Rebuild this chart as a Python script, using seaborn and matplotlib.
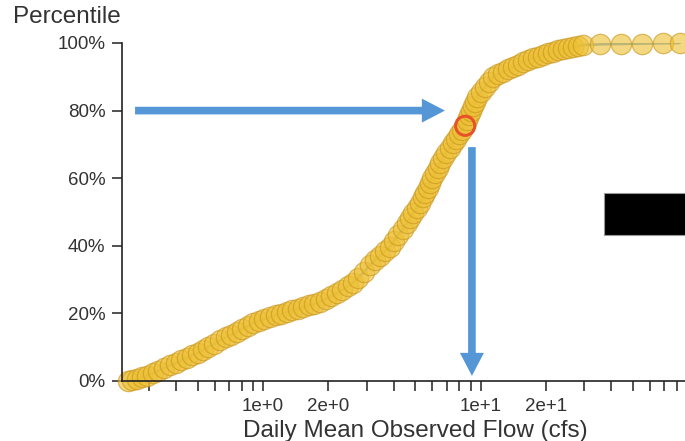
import numpy as np
import pandas as pd
import matplotlib
matplotlib.use('Agg')
import matplotlib.pyplot as plt
import matplotlib.ticker as mticker
from matplotlib.patches import Rectangle
import seaborn as sns

# flow duration curve (cfs, percentile)
flow = [0.240, 0.250, 0.264, 0.278, 0.293, 0.312,
        0.329, 0.351, 0.374,
        0.398, 0.420, 0.447,
        0.472, 0.503, 0.530,
        0.559, 0.596, 0.635,
        0.676, 0.713, 0.760,
        0.801, 0.853, 0.900,
        0.959, 1.01, 1.08,
        1.15, 1.21, 1.29,
        1.36, 1.45, 1.53,
        1.63, 1.72, 1.83,
        1.95, 2.05, 2.19,
        2.31, 2.46, 2.59,
        2.73, 2.91, 3.10,
        3.27, 3.45, 3.64, 3.83,
        4.00, 4.17, 4.40, 4.59,
        4.74, 4.89, 5.10, 5.27,
        5.44, 5.55, 5.73, 5.86,
        5.98, 6.17, 6.37, 6.51,
        6.72, 6.93, 7.24, 7.47,
        7.71, 7.96, 8.21, 8.48,
        8.66, 8.84, 9.03, 9.23, 9.43, 9.63,
        10.0, 10.5, 10.9, 11.4,
        12.0, 12.7, 13.4, 14.1,
        14.9, 15.7, 16.5, 17.4,
        18.4, 19.4, 20.4, 21.5,
        22.7, 23.9, 25.2, 26.6,
        28.0, 29.6,
        35.4, 44.2, 55.2, 68.9, 82.5]
percentile = [0.0, 0.3, 0.6, 1.2, 1.5, 2.4,
              3.0, 3.8, 4.7,
              5.3, 6.2, 6.8,
              7.7, 8.3, 9.2,
              10.1, 10.9, 12.1,
              13.0, 13.6, 14.5,
              15.4, 16.3, 17.2,
              17.8, 18.3, 18.9,
              19.5, 19.8, 20.4,
              21.0, 21.3, 21.9,
              22.5, 22.8, 23.4,
              24.3, 25.1, 26.0,
              26.9, 28.1, 29.0,
              30.5, 32.2, 34.3,
              35.8, 37.0, 38.5, 39.6,
              41.4, 43.2, 45.0, 46.7,
              48.2, 49.7, 51.2, 52.7,
              54.4, 55.6, 57.1, 58.6,
              60.1, 61.5, 63.0, 64.5,
              66.0, 67.5, 68.9, 70.4,
              71.6, 73.1, 74.3, 75.7,
              77.2, 78.7, 79.9, 81.4, 82.5, 84.0,
              85.5, 87.0, 88.5, 89.9,
              90.8, 91.4, 92.3, 92.9,
              93.5, 94.4, 95.0, 95.6,
              95.9, 96.4, 97.0, 97.3,
              97.9, 98.2, 98.5, 98.8,
              99.1, 99.4,
              99.6, 99.7, 99.8, 99.9, 100.0]

# highlighted point, arrows and the black box
pick_flow, pick_pct = 8.5, 75.5
h_arrow_tail, h_arrow_tip = (0.258, 80), (6.86, 80)
v_arrow_tail, v_arrow_tip = (9.13, 69.2), (9.13, 1.5)
box_x0, box_x1, box_y0, box_y1 = 36.9, 100, 43.2, 55.6

xtick_values = [0.3, 0.4, 0.5, 0.6, 0.7, 0.8, 0.9,
                1, 2, 3, 4, 5, 6, 7, 8, 9,
                10, 20, 30, 40, 50, 60, 70, 80, 90]
xtick_named = {1: '1e+0', 2: '2e+0', 10: '1e+1', 20: '2e+1'}
ytick_values = [0, 20, 40, 60, 80, 100]

df = pd.DataFrame({'flow': flow, 'pct': percentile})

sns.set_style('ticks')
plt.rcParams['font.family'] = ['Liberation Sans', 'DejaVu Sans']

fig = plt.figure(figsize=(6.85, 4.41), dpi=100)
ax = fig.add_axes([0.1781, 0.1361, 0.8409, 0.7664])

sns.lineplot(data=df, x='flow', y='pct', sort=False, color='#6fa8dc',
             lw=1.8, ax=ax, zorder=1)
sns.scatterplot(data=df, x='flow', y='pct', s=215, color='#edc034',
                edgecolor='#c9961c', linewidth=0.9, alpha=0.62, ax=ax,
                zorder=2, clip_on=False, legend=False)

ax.scatter([pick_flow], [pick_pct], s=190, facecolors='none',
           edgecolors='#e8522a', linewidths=2.2, zorder=4, clip_on=False)

blue = '#5597d6'
style = 'simple,head_length=1.66,head_width=1.73,tail_width=0.55'
for tail, tip in [(h_arrow_tail, h_arrow_tip), (v_arrow_tail, v_arrow_tip)]:
    ax.annotate('', xy=tip, xytext=tail,
                arrowprops=dict(arrowstyle=style, mutation_scale=10, fc=blue,
                                ec=blue, lw=0, shrinkA=0, shrinkB=0), zorder=3)

ax.add_patch(Rectangle((box_x0, box_y0), box_x1 - box_x0, box_y1 - box_y0,
                       fc='black', ec='#999999', lw=0.8, zorder=5))

ax.set_xscale('log')
ax.set_xlim(0.2247, 100)
ax.set_ylim(0, 100)
ax.xaxis.set_major_locator(mticker.FixedLocator(xtick_values))
ax.xaxis.set_major_formatter(mticker.FixedFormatter(
    [xtick_named.get(v, '') for v in xtick_values]))
ax.xaxis.set_minor_locator(mticker.NullLocator())
ax.set_yticks(ytick_values)
ax.set_yticklabels([f'{v}%' for v in ytick_values])

sns.despine(ax=ax)
for side in ['left', 'bottom']:
    ax.spines[side].set_color('#222222')
    ax.spines[side].set_linewidth(1.2)
ax.tick_params(length=7, width=1.1, color='#222222', labelsize=13.5,
               labelcolor='#333333', pad=5)

ax.set_xlabel('Daily Mean Observed Flow (cfs)', fontsize=17.5,
              color='#333333')
ax.xaxis.set_label_coords(0.509, -0.115)
ax.set_ylabel('')
fig.text(0.019, 0.962, 'Percentile', fontsize=17.5, color='#333333',
         va='center', ha='left')

fig.savefig('out.png', dpi=100)
